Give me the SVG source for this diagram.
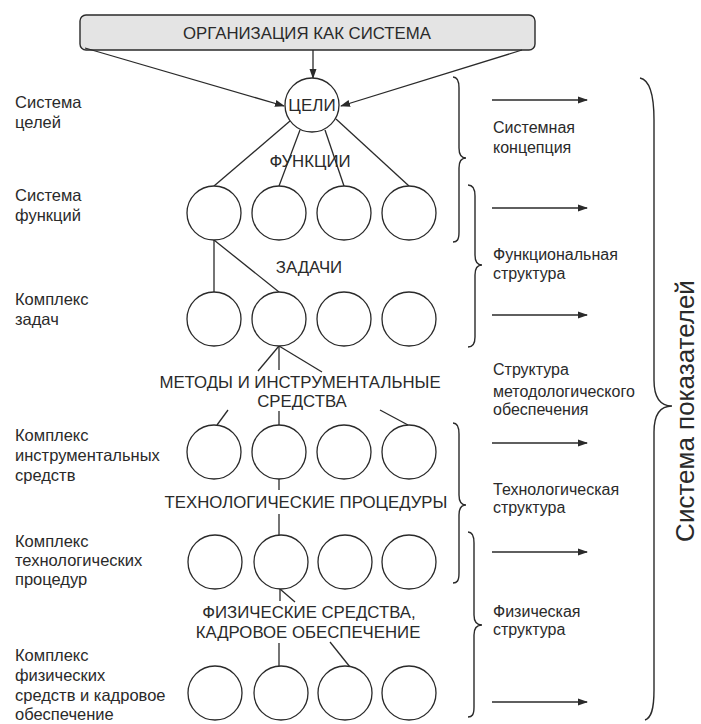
<svg xmlns="http://www.w3.org/2000/svg" width="701" height="724" viewBox="0 0 701 724">
<defs>
<marker id="ah" markerWidth="10" markerHeight="8" refX="9" refY="4" orient="auto" markerUnits="userSpaceOnUse">
<path d="M0,0.5 L10,4 L0,7.5 Z" fill="#2a2a2a"/>
</marker>
<style>
.ln{stroke:#2a2a2a;stroke-width:1.3;fill:none}
.nd{stroke:#2a2a2a;stroke-width:1.3;fill:#fff}
.br{stroke:#2a2a2a;stroke-width:1.4;fill:none}
text{font-family:"Liberation Sans",Arial,sans-serif;fill:#2a2a2a}
.lab{font-size:16.5px}
.rl{font-size:16px}
.nl{font-size:16.8px;text-anchor:middle}
.big{font-size:26px;text-anchor:middle}
</style>
</defs>
<rect width="701" height="724" fill="#fff"/>

<g id="header">
<rect x="80" y="15" width="455" height="35" rx="6" fill="#e4e4e4" stroke="#2a2a2a" stroke-width="1.4"/>
<text class="nl" x="307" y="39">ОРГАНИЗАЦИЯ КАК СИСТЕМА</text>
</g>

<g id="connectors">
<line class="ln" x1="85" y1="48" x2="284" y2="106" marker-end="url(#ah)"/>
<line class="ln" x1="522" y1="50" x2="341" y2="106" marker-end="url(#ah)"/>
<line class="ln" x1="313" y1="50" x2="313" y2="78" marker-end="url(#ah)"/>
<line class="ln" x1="290" y1="121" x2="214" y2="186"/>
<line class="ln" x1="300" y1="130" x2="279" y2="186"/>
<line class="ln" x1="325" y1="130" x2="344" y2="186"/>
<line class="ln" x1="336" y1="119" x2="409" y2="186"/>
<line class="ln" x1="214" y1="240" x2="214" y2="292"/>
<line class="ln" x1="214" y1="240" x2="279" y2="292"/>
<line class="ln" x1="279" y1="346" x2="258" y2="371"/>
<line class="ln" x1="279" y1="346" x2="279" y2="370"/>
<line class="ln" x1="279" y1="346" x2="322" y2="372"/>
<line class="ln" x1="228" y1="410" x2="217" y2="425"/>
<line class="ln" x1="279" y1="411" x2="279" y2="425"/>
<line class="ln" x1="380" y1="410" x2="408" y2="425"/>
<line class="ln" x1="279" y1="479" x2="279" y2="490"/>
<line class="ln" x1="279" y1="514" x2="279" y2="535"/>
<line class="ln" x1="280" y1="589" x2="280" y2="601"/>
<line class="ln" x1="280" y1="589" x2="295" y2="602"/>
<line class="ln" x1="279" y1="643" x2="279" y2="666"/>
<line class="ln" x1="330" y1="642" x2="350" y2="667"/>
<line class="ln" x1="492" y1="100" x2="587" y2="100" marker-end="url(#ah)"/>
<line class="ln" x1="492" y1="208" x2="587" y2="208" marker-end="url(#ah)"/>
<line class="ln" x1="492" y1="315" x2="587" y2="315" marker-end="url(#ah)"/>
<line class="ln" x1="492" y1="443" x2="587" y2="443" marker-end="url(#ah)"/>
<line class="ln" x1="492" y1="552" x2="587" y2="552" marker-end="url(#ah)"/>
<line class="ln" x1="492" y1="702" x2="587" y2="702" marker-end="url(#ah)"/>
</g>

<g id="goals">
<circle class="nd" cx="312" cy="105" r="27"/>
<text class="nl" x="312" y="111" style="font-size:17px">ЦЕЛИ</text>
</g>

<g id="functions">
<circle class="nd" cx="214" cy="213" r="27"/>
<circle class="nd" cx="279" cy="213" r="27"/>
<circle class="nd" cx="344" cy="213" r="27"/>
<circle class="nd" cx="409" cy="213" r="27"/>
</g>
<g id="tasks">
<circle class="nd" cx="214" cy="319" r="27"/>
<circle class="nd" cx="279" cy="319" r="27"/>
<circle class="nd" cx="344" cy="319" r="27"/>
<circle class="nd" cx="409" cy="319" r="27"/>
</g>
<g id="tools">
<circle class="nd" cx="214" cy="452" r="27"/>
<circle class="nd" cx="279" cy="452" r="27"/>
<circle class="nd" cx="344" cy="452" r="27"/>
<circle class="nd" cx="409" cy="452" r="27"/>
</g>
<g id="procedures">
<circle class="nd" cx="215" cy="562" r="27"/>
<circle class="nd" cx="281" cy="562" r="27"/>
<circle class="nd" cx="345" cy="562" r="27"/>
<circle class="nd" cx="409" cy="562" r="27"/>
</g>
<g id="physical">
<circle class="nd" cx="215" cy="693" r="27"/>
<circle class="nd" cx="281" cy="693" r="27"/>
<circle class="nd" cx="345" cy="693" r="27"/>
<circle class="nd" cx="409" cy="693" r="27"/>
</g>

<g id="level-labels">
<text class="nl" x="310" y="167">ФУНКЦИИ</text>
<text class="nl" x="309" y="273">ЗАДАЧИ</text>
<text class="nl" x="300" y="388">МЕТОДЫ И ИНСТРУМЕНТАЛЬНЫЕ</text>
<text class="nl" x="302" y="407">СРЕДСТВА</text>
<text class="nl" x="306" y="508">ТЕХНОЛОГИЧЕСКИЕ ПРОЦЕДУРЫ</text>
<text class="nl" x="309" y="618">ФИЗИЧЕСКИЕ СРЕДСТВА,</text>
<text class="nl" x="308" y="638">КАДРОВОЕ ОБЕСПЕЧЕНИЕ</text>
</g>

<g id="left-labels">
<text class="lab" x="15" y="108">Система</text>
<text class="lab" x="15" y="128">целей</text>
<text class="lab" x="15" y="201">Система</text>
<text class="lab" x="15" y="221">функций</text>
<text class="lab" x="15" y="305">Комплекс</text>
<text class="lab" x="15" y="325">задач</text>
<text class="lab" x="15" y="441">Комплекс</text>
<text class="lab" x="15" y="461">инструментальных</text>
<text class="lab" x="15" y="481">средств</text>
<text class="lab" x="15" y="547">Комплекс</text>
<text class="lab" x="15" y="566">технологических</text>
<text class="lab" x="15" y="585">процедур</text>
<text class="lab" x="15" y="661">Комплекс</text>
<text class="lab" x="15" y="681">физических</text>
<text class="lab" x="15" y="701">средств и кадровое</text>
<text class="lab" x="15" y="720">обеспечение</text>
</g>

<g id="braces">
<path class="br" d="M453,77 C457,77 459,80 459,88 L459,148 C459,155 461,158 466,158 C461,158 459,161 459,168 L459,232 C459,240 457,242 453,242"/>
<path class="br" d="M468,185 C472,185 475,188 475,196 L475,255 C475,262 477,265 482,265 C477,265 475,268 475,275 L475,337 C475,345 472,347 468,347"/>
<path class="br" d="M453,423 C457,423 459,426 459,434 L459,495 C459,502 461,505 466,505 C461,505 459,508 459,515 L459,573 C459,581 457,583 453,583"/>
<path class="br" d="M468,532 C472,532 474,535 474,543 L474,615 C474,622 477,625 482,625 C477,625 474,628 474,635 L474,707 C474,715 472,717 468,717"/>
<path class="br" d="M640,78 C650,80 654,95 654,120 L654,380 C654,398 660,406 672,406 C660,406 654,414 654,432 L654,690 C654,710 651,718 645,720"/>
</g>

<g id="right-labels">
<text class="rl" x="493" y="133">Системная</text>
<text class="rl" x="493" y="153">концепция</text>
<text class="rl" x="493" y="260">Функциональная</text>
<text class="rl" x="493" y="279">структура</text>
<text class="rl" x="493" y="375">Структура</text>
<text class="rl" x="493" y="397">методологического</text>
<text class="rl" x="493" y="415">обеспечения</text>
<text class="rl" x="493" y="495">Технологическая</text>
<text class="rl" x="493" y="513">структура</text>
<text class="rl" x="493" y="617">Физическая</text>
<text class="rl" x="493" y="635">структура</text>
<text class="big" transform="translate(694,411) rotate(-90)">Система показателей</text>
</g>
</svg>
